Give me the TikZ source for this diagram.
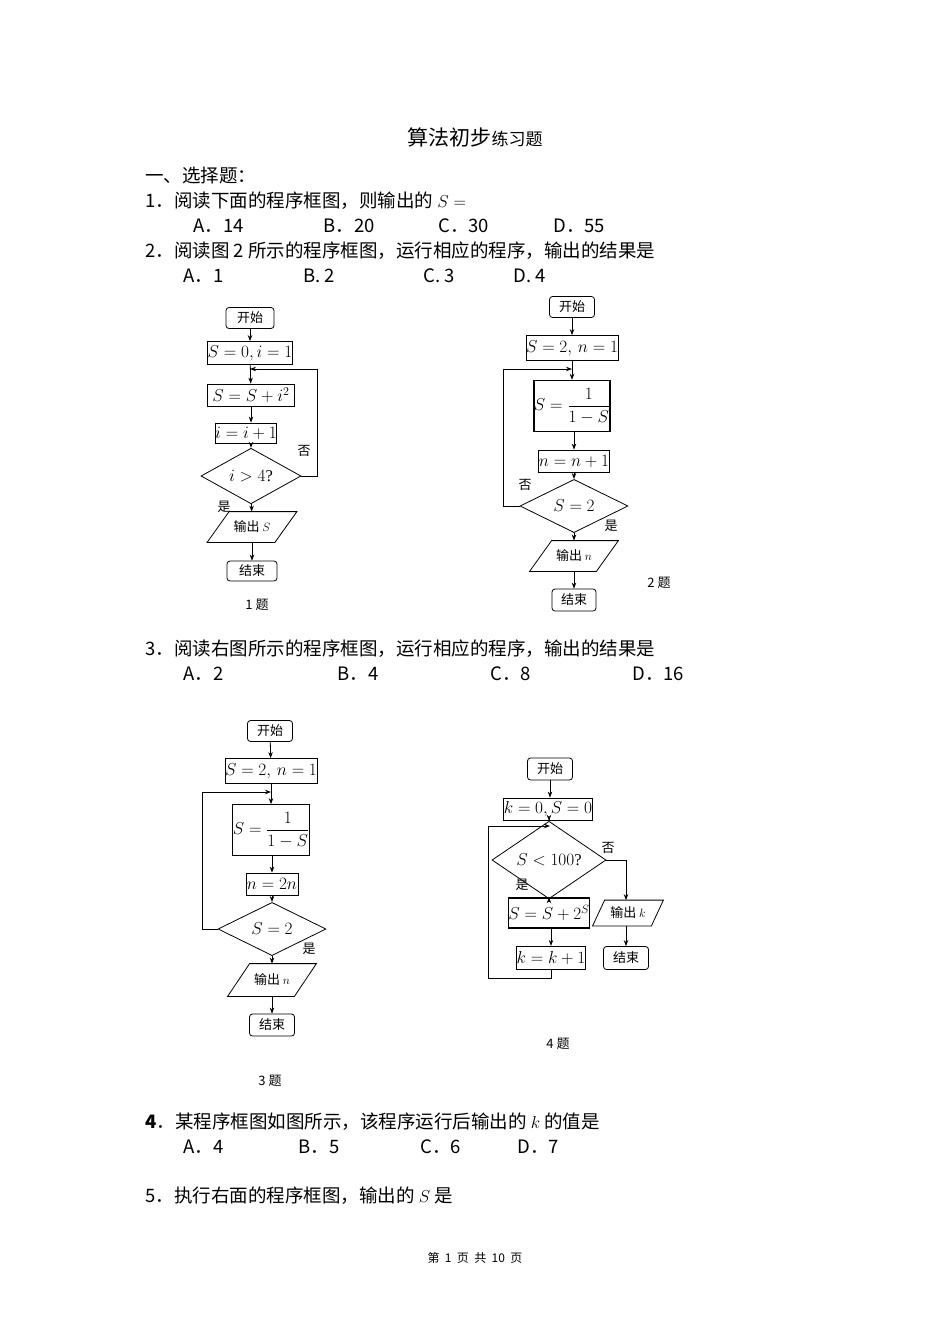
\documentclass[tikz,border=0pt]{standalone}
\usepackage{fontspec}
\setmainfont{Liberation Serif}
\newfontfamily\cjk{Noto Sans CJK SC}
\usetikzlibrary{shapes.geometric,arrows.meta}
\begin{document}
\begin{tikzpicture}[x=1pt,y=-1pt,
 line width=0.8pt,
 txt/.style={anchor=west,inner sep=0,font=\cjk\fontsize{18.5}{21}\selectfont},
 bx/.style={draw,inner sep=0,font=\fontsize{16.5}{18}\selectfont},
 rbx/.style={bx,rounded corners=3pt,font=\cjk\fontsize{13}{15}\selectfont},
 dm/.style={draw,diamond,inner sep=0,font=\fontsize{16.5}{18}\selectfont},
 pg/.style={inner sep=0,font=\cjk\fontsize{13}{15}\selectfont},
 lb/.style={inner sep=0,font=\cjk\fontsize{13}{15}\selectfont},
 ar/.style={-{Stealth[length=6pt,width=4.5pt]}}]
\useasboundingbox (0,0) rectangle (950,1344);
\fill[white] (0,0) rectangle (950,1344);
\newcommand{\para}[2]{\draw ([xshift=#2]#1.north west) -- (#1.north east) -- ([xshift=-#2]#1.south east) -- (#1.south west) -- cycle;}
% texts
\node (t) at (475,137) {\cjk\fontsize{21}{23}\selectfont 算法初步\fontsize{17}{19}\selectfont 练习题};
\node[txt] (l1) at (145,175) {一、选择题：};
\node[txt] (l2) at (145,201) {1．阅读下面的程序框图，则输出的 $S=$};
\node[txt] (a1) at (193,226) {A．14}; \node[txt] (b1) at (323,226) {B．20};
\node[txt] (c1) at (438,226) {C．30}; \node[txt] (d1) at (553,226) {D．55};
\node[txt] (l3) at (145,251) {2．阅读图 2 所示的程序框图，运行相应的程序，输出的结果是};
\node[txt] (a2) at (183,276) {A．1}; \node[txt] (b2) at (303,276) {B. 2};
\node[txt] (c2) at (423,276) {C. 3}; \node[txt] (d2) at (513,276) {D. 4};
\node[txt] (l4) at (145,649) {3．阅读右图所示的程序框图，运行相应的程序，输出的结果是};
\node[txt] (a3) at (183,674) {A．2}; \node[txt] (b3) at (337,674) {B．4};
\node[txt] (c3) at (490,674) {C．8}; \node[txt] (d3) at (632,674) {D．16};
\node[txt] (l5) at (145,1122) {\textbf{4}．某程序框图如图所示，该程序运行后输出的 $k$ 的值是};
\node[txt] (a4) at (183,1147) {A．4}; \node[txt] (b4) at (298,1147) {B．5};
\node[txt] (c4) at (420,1147) {C．6}; \node[txt] (d4) at (517,1147) {D．7};
\node[txt] (l6) at (145,1196) {5．执行右面的程序框图，输出的 $S$ 是};
\node (ft) at (475,1258) {\cjk\fontsize{12}{14}\selectfont 第\ \ 1\ \ 页\ \ 共\ \ 10\ \ 页};
% chart 1
\node[rbx,minimum width=48,minimum height=21] (s1) at (250,318) {开始};
\node[bx,minimum width=77,minimum height=23] (i1) at (250,353) {$S=0,i=1$};
\node[bx,minimum width=87,minimum height=22] (p1) at (251,395) {$S=S+i^2$};
\node[bx,minimum width=57,minimum height=20] (q1) at (246,433) {$i=i+1$};
\node[dm,minimum width=100,minimum height=34] (d1n) at (251,476) {$i>4$?};
\node[pg,minimum width=89,minimum height=30] (o1) at (252,527) {输出 $S$};
\node[rbx,minimum width=50,minimum height=20] (e1) at (252,571) {结束};
\para{o1}{22}
\coordinate (m1) at (250,369);
\draw[ar] (s1) -- (i1); \draw[ar] (i1) -- (p1); \draw[ar] (p1) -- (p1|-q1.north);
\draw[ar] (q1.south-|d1n) -- (d1n); \draw[ar] (d1n) -- (o1); \draw[ar] (o1) -- (e1);
\draw[ar] (d1n.east) -| (317,369) -- (m1);
\node[lb] (n1) at (304,451) {否}; \node[lb] (y1) at (224,507) {是};
\node[lb] (c1t) at (257,605) {1 题};
% chart 2
\node[rbx,minimum width=45,minimum height=21] (s2) at (572,307) {开始};
\node[bx,minimum width=87,minimum height=25] (i2) at (572,348) {$S=2,\,n=1$};
\node[bx,line width=1.4pt,minimum width=73,minimum height=51] (p2) at (572,406) {$S=\displaystyle\frac{1}{1-S}$};
\node[bx,minimum width=65,minimum height=22] (q2) at (574,461) {$n=n+1$};
\node[dm,minimum width=108,minimum height=33] (d2n) at (574,506) {$S=2$};
\node[pg,minimum width=88,minimum height=30] (o2) at (574,556) {输出 $n$};
\node[rbx,minimum width=44,minimum height=22] (e2) at (574,600) {结束};
\para{o2}{22}
\coordinate (m2) at (572,369);
\draw[ar] (s2) -- (i2); \draw[ar] (i2) -- (p2); \draw[ar] (p2.south-|q2) -- (q2);
\draw[ar] (q2) -- (d2n); \draw[ar] (d2n) -- (o2); \draw[ar] (o2) -- (e2);
\draw[ar] (d2n.west) -- (503,506) |- (m2);
\node[lb] (n2) at (525,485) {否}; \node[lb] (y2) at (611,526) {是};
\node[lb] (c2t) at (659,583) {2 题};
% chart 3
\node[rbx,minimum width=45,minimum height=21] (s3) at (270,731) {开始};
\node[bx,minimum width=88,minimum height=25] (i3) at (271,771) {$S=2,\,n=1$};
\node[bx,minimum width=74,minimum height=51] (p3) at (271,830) {$S=\displaystyle\frac{1}{1-S}$};
\node[bx,minimum width=52,minimum height=22] (q3) at (272,884) {$n=2n$};
\node[dm,minimum width=108,minimum height=33] (d3n) at (272,929) {$S=2$};
\node[pg,minimum width=88,minimum height=32] (o3) at (272,980) {输出 $n$};
\node[rbx,minimum width=45,minimum height=22] (e3) at (272,1025) {结束};
\para{o3}{22}
\coordinate (m3) at (271,792);
\draw[ar] (s3) -- (i3); \draw[ar] (i3) -- (p3); \draw[ar] (p3.south-|q3) -- (q3);
\draw[ar] (q3) -- (d3n); \draw[ar] (d3n) -- (o3); \draw[ar] (o3) -- (e3);
\draw[ar] (d3n.west) -- (202,929) |- (m3);
\node[lb] (y3) at (309,949) {是};
\node[lb] (c3t) at (270,1081) {3 题};
% chart 4
\node[rbx,minimum width=45,minimum height=22] (s4) at (550,769) {开始};
\node[bx,minimum width=86,minimum height=22] (i4) at (548,809) {$k=0,S=0$};
\node[dm,minimum width=114,minimum height=37] (d4n) at (549,860) {$S<100$?};
\node[bx,line width=1.4pt,minimum width=77,minimum height=30] (p4) at (549,913) {$S=S+2^S$};
\node[pg,minimum width=70,minimum height=25] (o4) at (628,913) {输出 $k$};
\node[bx,line width=1.2pt,minimum width=65,minimum height=23] (q4) at (551,958) {$k=k+1$};
\node[rbx,minimum width=45,minimum height=23] (e4) at (626,958) {结束};
\para{o4}{12}
\coordinate (m4) at (550,826);
\draw[ar] (s4) -- (s4|-i4.north); \draw[ar] (i4.south-|d4n) -- (d4n); \draw[ar] (d4n) -- (p4);
\draw[ar] (p4.south-|q4) -- (q4); \draw[ar] (d4n.east) -| (o4.north-|e4);
\draw[ar] (o4.south-|e4) -- (e4);
\draw[ar] (q4.south) -- (551,978) -- (488,978) |- (m4);
\node[lb] (n4) at (608,848) {否}; \node[lb] (y4) at (522,885) {是};
\node[lb] (c4t) at (558,1044) {4 题};
\end{tikzpicture}
\end{document}
